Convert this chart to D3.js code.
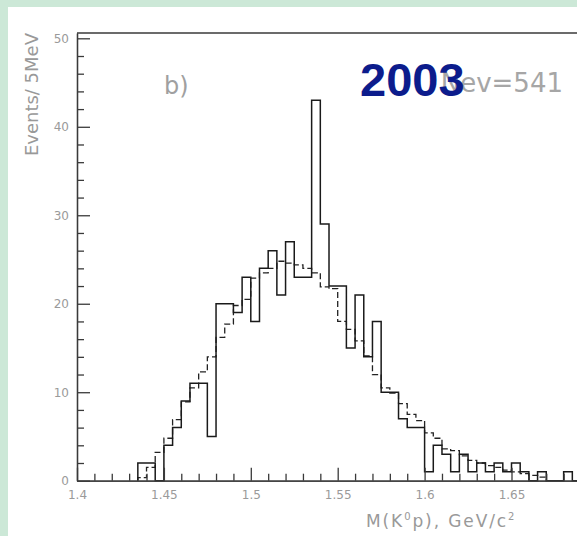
<!DOCTYPE html>
<html>
<head>
<meta charset="utf-8">
<script src="https://cdn.jsdelivr.net/npm/d3@7"></script>
<style>
  html, body { margin: 0; padding: 0; background: #cce8d7; overflow: hidden; }
  #svg-container { width: 577px; height: 536px; }
  .axis path, .axis line { stroke: #3a3a3a; stroke-width: 1.3; }
  .axis text { fill: #9a9a9a; font-family: "DejaVu Sans", sans-serif; font-size: 12px; }
</style>
</head>
<body>
<div id="svg-container"></div>
<script>
////////////////////////////////////////////////////////////////////
////////////////////////////  Data  ////////////////////////////////

// 5 MeV bins, first bin starts at 1.435 GeV
const binStart = 1.435;
const binWidth = 0.005;

// data histogram (solid)
const events = [
  2, 2, 0, 4, 6, 9, 11, 11, 5, 20,
  20, 19, 23, 18, 24, 26, 21, 27, 23, 23,
  43, 29, 22, 22, 15, 21, 14, 18, 10, 10,
  7, 6, 6, 1, 4, 3, 1, 3, 1, 2,
  1, 2, 1, 2, 1, 0, 1, 0, 0, 1, 0
];

// background / mc histogram (dashed)
const background = [
  0.35, 1.5, 3.2, 4.8, 6.9, 8.9, 10.5, 12.3, 14.0, 16.2,
  17.7, 19.8, 20.5, 22.9, 23.5, 24.0, 24.8, 24.6, 24.4, 24.0,
  23.5, 21.9, 21.7, 18.0, 17.1, 15.8, 14.1, 12.0, 10.5, 9.9,
  8.7, 7.5, 6.8, 5.4, 4.8, 3.6, 3.4, 2.8, 2.3, 2.0,
  1.7, 1.5, 1.2, 1.0, 0.8, 0.6, 0.4
];

const xTicks = [1.4, 1.45, 1.5, 1.55, 1.6, 1.65];
const xTickLabels = ["1.4", "1.45", "1.5", "1.55", "1.6", "1.65"];
const yTicks = [0, 10, 20, 30, 40, 50];

////////////////////////////////////////////////////////////////////
////////////////////////////  Init  ////////////////////////////////

const width = 577;
const height = 536;

const svg = d3
  .select("#svg-container")
  .append("svg")
  .attr("width", width)
  .attr("height", height);

// white panel on the green page
svg
  .append("rect")
  .attr("x", 8)
  .attr("y", 7)
  .attr("width", width - 8)
  .attr("height", height - 7)
  .attr("fill", "white");

// scale
const xScale = d3.scaleLinear().domain([1.4, 1.7]).range([77, 77 + 0.3 * 1738]);
const yScale = d3.scaleLinear().domain([0, 50.6]).range([480.7, 33]);

// histograms
const steps = (vals) => {
  const pts = [[binStart, 0]];
  vals.forEach((v, i) => pts.push([binStart + i * binWidth, v]));
  pts.push([binStart + vals.length * binWidth, 0]);
  return pts;
};

const stepLine = d3
  .line()
  .curve(d3.curveStepAfter)
  .x((d) => xScale(d[0]))
  .y((d) => yScale(d[1]));

svg
  .append("path")
  .datum(steps(background))
  .attr("d", stepLine)
  .attr("fill", "none")
  .attr("stroke", "#222")
  .attr("stroke-width", 1.3)
  .attr("stroke-dasharray", "6,3");

svg
  .append("path")
  .datum(steps(events))
  .attr("d", stepLine)
  .attr("fill", "none")
  .attr("stroke", "#1a1a1a")
  .attr("stroke-width", 1.5);

// axis
const xMinor = d3.range(140, 170).map((d) => d / 100).filter((d) => Math.round(d * 100) % 5 !== 0);
const yMinor = d3.range(0, 51, 2).filter((d) => d % 10 !== 0);

svg
  .append("g")
  .attr("class", "axis x-minor")
  .attr("transform", `translate(0, ${yScale(0)})`)
  .call(d3.axisBottom(xScale).tickValues(xMinor).tickSize(-7).tickSizeOuter(0).tickFormat(""));

svg
  .append("g")
  .attr("class", "axis x-axis")
  .attr("transform", `translate(0, ${yScale(0)})`)
  .call(
    d3
      .axisBottom(xScale)
      .tickValues(xTicks)
      .tickSize(-13)
      .tickSizeOuter(0)
      .tickPadding(10)
      .tickFormat((d, i) => xTickLabels[i])
  );

svg
  .append("g")
  .attr("class", "axis y-minor")
  .attr("transform", `translate(${xScale(1.4)}, 0)`)
  .call(d3.axisLeft(yScale).tickValues(yMinor).tickSize(-7).tickSizeOuter(0).tickFormat(""));

svg
  .append("g")
  .attr("class", "axis y-axis")
  .attr("transform", `translate(${xScale(1.4)}, 0)`)
  .call(d3.axisLeft(yScale).tickValues(yTicks).tickSize(-13).tickSizeOuter(0).tickPadding(8));

// frame top
svg
  .append("line")
  .attr("x1", xScale(1.4))
  .attr("x2", xScale(1.7))
  .attr("y1", yScale(50.6))
  .attr("y2", yScale(50.6))
  .attr("stroke", "#3a3a3a")
  .attr("stroke-width", 1.3);

// titles
svg
  .append("text")
  .attr("transform", "translate(37.5, 33) rotate(-90)")
  .attr("text-anchor", "end")
  .attr("fill", "#999")
  .style("font-family", "DejaVu Sans, sans-serif")
  .style("font-size", "18px")
  .text("Events/ 5MeV");

const xTitle = svg
  .append("text")
  .attr("x", 366)
  .attr("y", 527)
  .attr("fill", "#999")
  .style("font-family", "DejaVu Sans, sans-serif")
  .style("font-size", "17px")
  .style("letter-spacing", "1.9px");
xTitle.append("tspan").text("M(K");
xTitle.append("tspan").attr("dy", -7).style("font-size", "10px").text("0");
xTitle.append("tspan").attr("dy", 7).text("p), GeV/c");
xTitle.append("tspan").attr("dy", -7).style("font-size", "10px").text("2");

svg
  .append("text")
  .attr("x", 164)
  .attr("y", 94)
  .attr("fill", "#a0a0a0")
  .style("font-family", "DejaVu Sans, sans-serif")
  .style("font-size", "24px")
  .text("b)");

svg
  .append("text")
  .attr("x", 563)
  .attr("y", 92)
  .attr("text-anchor", "end")
  .attr("fill", "#a6a6a6")
  .style("font-family", "DejaVu Sans, sans-serif")
  .style("font-size", "26px")
  .text("Nev=541");

// "2003" stamp sits on top of the Nev label, as in the original
svg
  .append("text")
  .attr("x", 360)
  .attr("y", 95.5)
  .attr("fill", "#0c1c8c")
  .style("font-family", "Liberation Sans, Arial, sans-serif")
  .style("font-weight", "bold")
  .style("font-size", "47px")
  .text("2003");
</script>
</body>
</html>
